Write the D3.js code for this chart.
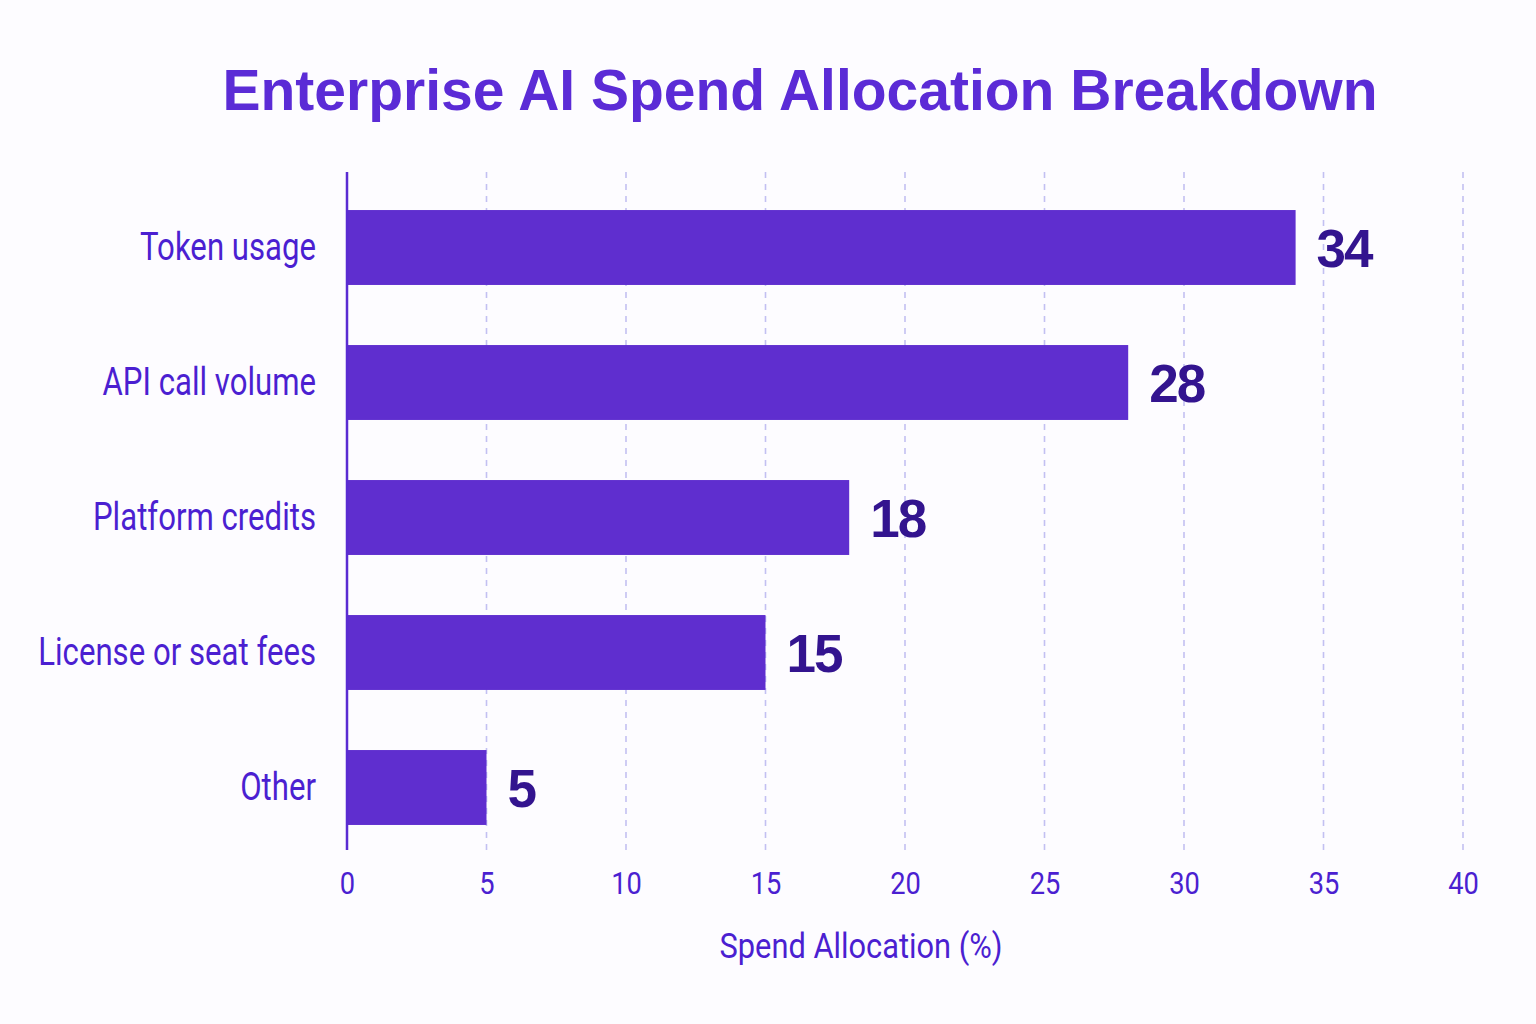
<!DOCTYPE html>
<html>
<head>
<meta charset="utf-8">
<script src="https://cdn.jsdelivr.net/npm/d3@7"></script>
<style>
  html, body { margin: 0; padding: 0; background: #fdfcff; }
  svg { display: block; }
</style>
</head>
<body>
<svg class="js-render-chart" width="1536" height="1024"></svg>
<script>
"use strict";

//data

const categories = ["Token usage", "API call volume", "Platform credits", "License or seat fees", "Other"];
const values = [34, 28, 18, 15, 5];
const ticks = [0, 5, 10, 15, 20, 25, 30, 35, 40];

//layout

const W = 1536;
const H = 1024;
const m = { t: 172, r: 73, b: 174, l: 347 };
const w = W - m.l - m.r;
const h = H - m.t - m.b;

//roboto squeezed a bit to get the narrow look of the reference
const narrow = "Roboto, 'Liberation Sans', sans-serif";
const squeeze = 0.82;
const bold = "'Liberation Sans', Arial, sans-serif";

const svg = d3.select(".js-render-chart");

svg.append("rect")
  .attr("width", W)
  .attr("height", H)
  .attr("fill", "#fdfcff");

//title

svg.append("text")
  .attr("x", 800)
  .attr("y", 110)
  .attr("text-anchor", "middle")
  .attr("font-family", bold)
  .attr("font-weight", 700)
  .attr("font-size", 57)
  .attr("fill", "#5b2bd6")
  .text("Enterprise AI Spend Allocation Breakdown");

//scales

const x = d3.scaleLinear()
  .domain([0, 40])
  .range([0, w]);

const y = d3.scaleBand()
  .domain(categories)
  .range([8, h + 5])
  .paddingInner(0.445)
  .paddingOuter(0.2225);

const chart = svg.append("g")
  .attr("transform", `translate(${m.l}, ${m.t})`);

//grid

chart.append("g")
  .selectAll("line")
  .data(ticks.filter((d) => d > 0))
  .join("line")
  .attr("x1", (d) => x(d))
  .attr("x2", (d) => x(d))
  .attr("y1", 0)
  .attr("y2", h)
  .attr("stroke", "#c3c0f2")
  .attr("stroke-width", 1.6)
  .attr("stroke-dasharray", "6,6");

//bars

chart.append("g")
  .selectAll("rect")
  .data(values)
  .join("rect")
  .attr("x", 0)
  .attr("y", (d, i) => y(categories[i]))
  .attr("width", (d) => x(d))
  .attr("height", y.bandwidth())
  .attr("fill", "#5f2ecf");

//value labels

chart.append("g")
  .selectAll("text")
  .data(values)
  .join("text")
  .attr("x", (d) => x(d) + 21)
  .attr("y", (d, i) => y(categories[i]) + y.bandwidth() / 2)
  .attr("dy", "0.36em")
  .attr("font-family", bold)
  .attr("font-weight", 700)
  .attr("font-size", 53)
  .attr("letter-spacing", -2)
  .attr("fill", "#33148f")
  .text((d) => d);

//y axis

const ya = d3.axisLeft(y).tickSize(0).tickPadding(31);

chart.append("g")
  .call(ya)
  .call((g) => g.select(".domain").remove())
  .selectAll("text")
  .attr("x", -31 / squeeze)
  .attr("transform", `scale(${squeeze}, 1)`)
  .attr("font-family", narrow)
  .attr("font-size", 38)
  .attr("fill", "#4b1fd1");

chart.append("line")
  .attr("x1", 0)
  .attr("x2", 0)
  .attr("y1", 0)
  .attr("y2", h)
  .attr("stroke", "#5a2bd2")
  .attr("stroke-width", 2.5);

//x axis

const xa = d3.axisBottom(x).tickValues(ticks).tickSize(0).tickPadding(22);

chart.append("g")
  .attr("transform", `translate(0, ${h})`)
  .call(xa)
  .call((g) => g.select(".domain").remove())
  .selectAll("text")
  .attr("transform", "scale(0.88, 1)")
  .attr("font-family", narrow)
  .attr("font-size", 31)
  .attr("fill", "#4b1fd1");

chart.append("text")
  .attr("transform", `translate(${x(20) - 44}, ${h + 108}) scale(0.88, 1)`)
  .attr("text-anchor", "middle")
  .attr("font-family", narrow)
  .attr("font-size", 35)
  .attr("fill", "#4b1fd1")
  .text("Spend Allocation (%)");
</script>
</body>
</html>
